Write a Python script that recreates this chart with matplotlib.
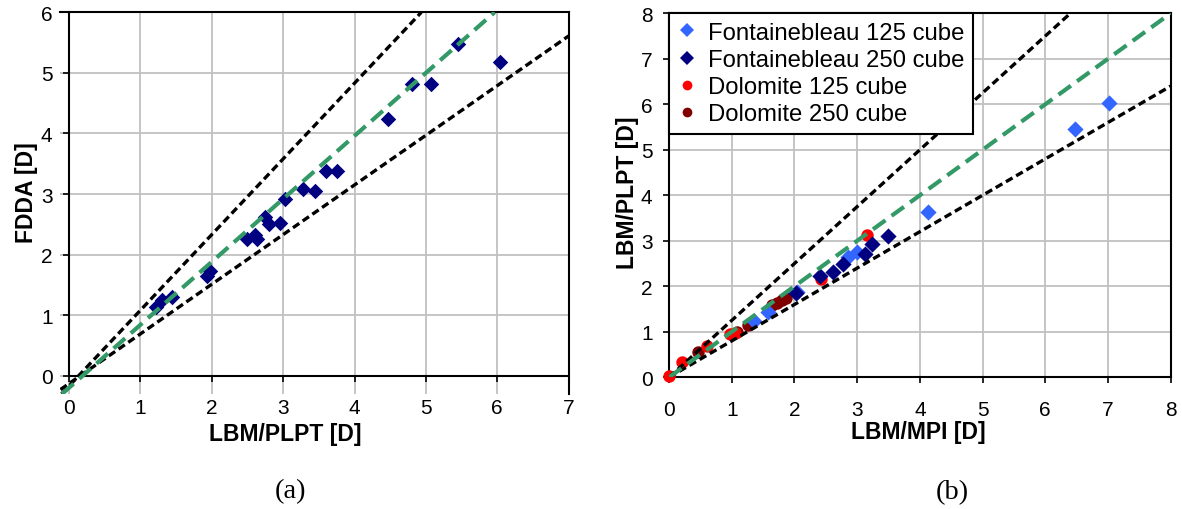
import matplotlib
matplotlib.use("Agg")
import matplotlib.pyplot as plt
from matplotlib.lines import Line2D

plt.rcParams['font.family'] = ['Liberation Sans', 'DejaVu Sans']
plt.rcParams['lines.scale_dashes'] = False

# ---------------- data ----------------
# (a) FDDA vs LBM/PLPT
a_x = [1.22, 1.30, 1.45, 1.93, 1.97, 2.50, 2.60, 2.63, 2.75, 2.80, 2.95, 3.02,
       3.28, 3.45, 3.60, 3.75, 4.47, 4.81, 5.07, 5.45, 6.04]
a_y = [1.13, 1.25, 1.30, 1.65, 1.73, 2.25, 2.33, 2.26, 2.62, 2.50, 2.52, 2.92,
       3.08, 3.05, 3.38, 3.38, 4.24, 4.82, 4.82, 5.47, 5.18]
# reference lines in (a): (slope, intercept)
a_trend = (1.04, -0.20)
a_upper = (1.25, -0.17)
a_lower = (0.82, -0.13)

# (b) LBM/PLPT vs LBM/MPI
fb125_x = [1.35, 1.58, 2.04, 2.86, 2.99, 4.13, 6.47, 7.01]
fb125_y = [1.24, 1.43, 1.87, 2.64, 2.75, 3.63, 5.45, 6.02]
fb250_x = [2.02, 2.41, 2.62, 2.77, 3.13, 3.23, 3.50]
fb250_y = [1.85, 2.22, 2.31, 2.49, 2.71, 2.93, 3.10]
do125_x = [0.00, 0.20, 0.60, 0.97, 1.05, 2.43, 3.15]
do125_y = [0.03, 0.33, 0.69, 0.95, 0.98, 2.17, 3.12]
do250_x = [0.47, 1.08, 1.26, 1.65, 1.72, 1.80, 1.86]
do250_y = [0.55, 0.99, 1.15, 1.58, 1.63, 1.70, 1.75]
b_trend = (1.0, 0.0)
b_upper = (1.25, 0.0)
b_lower = (0.8, 0.0)

a_xticks = [0, 1, 2, 3, 4, 5, 6, 7]
a_yticks = [0, 1, 2, 3, 4, 5, 6]
b_ticks = [0, 1, 2, 3, 4, 5, 6, 7, 8]

NAVY = '#000080'
LBLUE = '#3366FF'
RED = '#FF0000'
DRED = '#800000'
GREEN = '#339966'
GRID = '#C0C0C0'

fig = plt.figure(figsize=(11.82, 5.10), dpi=100)
W, H = 1182.0, 510.0

def px_axes(l, t, r, b):
    return fig.add_axes([l / W, 1 - b / H, (r - l) / W, (b - t) / H])

TICKFS = 15
LABFS = 16.5

def style_ticks(ax):
    ax.tick_params(axis='both', which='both', direction='out', length=4.3,
                   width=1.2, color='black', labelsize=TICKFS)
    ax.tick_params(axis='x', pad=12)
    ax.tick_params(axis='y', pad=7.5)
    ax.grid(True, color=GRID, linewidth=1.3, zorder=0)
    ax.set_axisbelow(True)

def ref_lines(ax, trend, upper, lower):
    for (s, c) in (upper, lower):
        ax.axline((0, c), slope=s, color='black', linewidth=2.4,
                  dashes=(5.5, 3.0), zorder=4)
    s, c = trend
    ax.axline((0, c), slope=s, color=GREEN, linewidth=3.0,
              dashes=(11, 5.5), zorder=5)

# ---------------- (a) ----------------
ax1 = px_axes(60.4, 13.3, 568.7, 394.9)
ax1.set_xlim(-0.12, 7)
ax1.set_ylim(-0.30, 6)
ax1.spines['left'].set_position(('data', 0))
ax1.spines['bottom'].set_position(('data', 0))
for sp in ax1.spines.values():
    sp.set_linewidth(1.5)
    sp.set_color('black')
ax1.spines['left'].set_bounds(0, 6)
ax1.spines['bottom'].set_bounds(0, 7)
ax1.set_xticks(a_xticks)
ax1.set_yticks(a_yticks)
style_ticks(ax1)
ax1.scatter(a_x, a_y, marker='D', s=62, color=NAVY, linewidths=0, zorder=3)
ref_lines(ax1, a_trend, a_upper, a_lower)
ax1.set_xlabel('LBM/PLPT [D]', fontsize=LABFS, fontweight='bold', va='center')
ax1.xaxis.set_label_coords(0.442, -0.105)
ax1.set_ylabel('FDDA [D]', fontsize=LABFS, fontweight='bold', va='center')
ax1.yaxis.set_label_coords(-0.066, 0.529)

# ---------------- (b) ----------------
ax2 = px_axes(669.0, 14.3, 1170.7, 378.3)
ax2.set_xlim(0, 8)
ax2.set_ylim(0, 8)
for sp in ax2.spines.values():
    sp.set_linewidth(1.5)
    sp.set_color('black')
ax2.set_xticks(b_ticks)
ax2.set_yticks(b_ticks)
style_ticks(ax2)
ax2.scatter(do250_x, do250_y, marker='o', s=80, color=DRED, linewidths=0, zorder=3, clip_on=False)
ax2.scatter(do125_x, do125_y, marker='o', s=80, color=RED, linewidths=0, zorder=3, clip_on=False)
ax2.scatter(fb125_x, fb125_y, marker='D', s=68, color=LBLUE, linewidths=0, zorder=3)
ax2.scatter(fb250_x, fb250_y, marker='D', s=68, color=NAVY, linewidths=0, zorder=3)
ref_lines(ax2, b_trend, b_upper, b_lower)
ax2.set_xlabel('LBM/MPI [D]', fontsize=LABFS, fontweight='bold', va='center')
ax2.xaxis.set_label_coords(0.496, -0.150)
ax2.set_ylabel('LBM/PLPT [D]', fontsize=LABFS, fontweight='bold', va='center')
ax2.yaxis.set_label_coords(-0.082, 0.509)

handles = [
    Line2D([], [], linestyle='none', marker='D', markersize=7, color=LBLUE, markeredgewidth=0),
    Line2D([], [], linestyle='none', marker='D', markersize=7, color=NAVY, markeredgewidth=0),
    Line2D([], [], linestyle='none', marker='o', markersize=7, color=RED, markeredgewidth=0),
    Line2D([], [], linestyle='none', marker='o', markersize=7, color=DRED, markeredgewidth=0),
]
labels = ['Fontainebleau 125 cube', 'Fontainebleau 250 cube',
          'Dolomite 125 cube', 'Dolomite 250 cube']
leg = ax2.legend(handles, labels, loc='upper left', bbox_to_anchor=(0, 1),
                 borderaxespad=0, frameon=True, fancybox=False, framealpha=1,
                 edgecolor='black', fontsize=17.2, handlelength=0.8,
                 handletextpad=0.5, borderpad=0.35, labelspacing=0.22)
leg.get_frame().set_linewidth(1.5)
leg.set_zorder(10)

# panel captions
fig.text(290 / W, 1 - 492 / H, '(a)', fontsize=20.5, ha='center', va='center',
         family=['Liberation Serif', 'DejaVu Serif'])
fig.text(952 / W, 1 - 493 / H, '(b)', fontsize=20.5, ha='center', va='center',
         family=['Liberation Serif', 'DejaVu Serif'])

fig.savefig('out.png', dpi=100)
